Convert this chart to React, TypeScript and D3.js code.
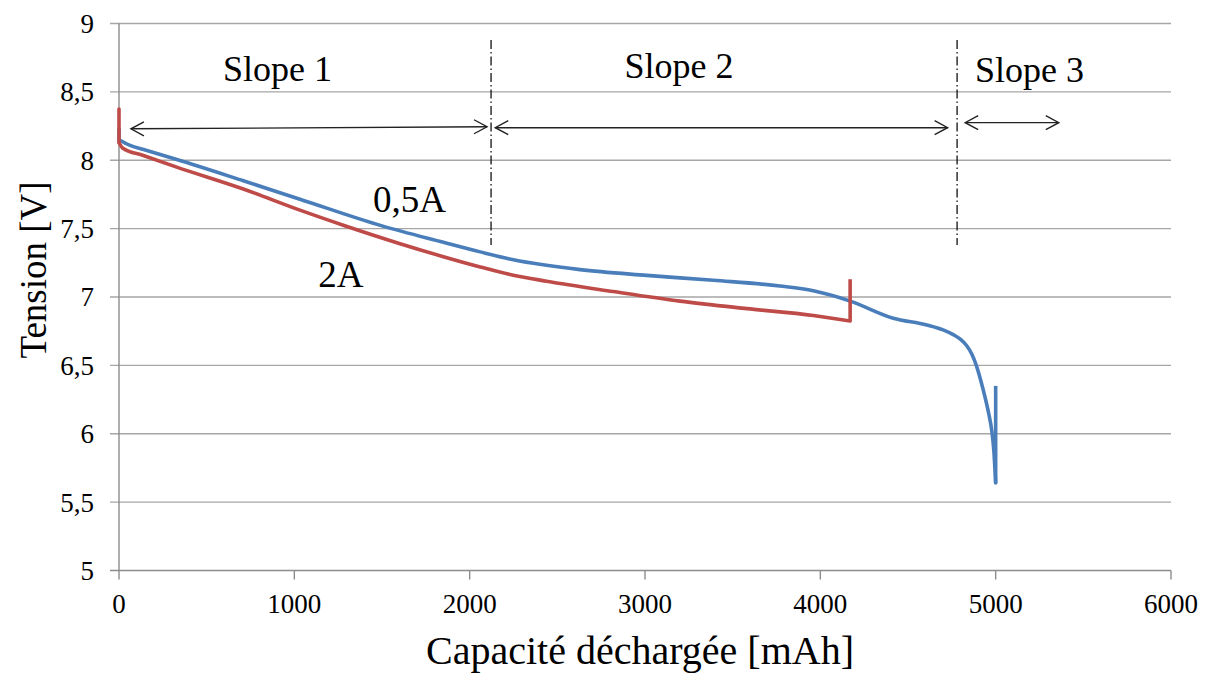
import React from "react";
import * as d3 from "d3";

const xTicks = [0, 1000, 2000, 3000, 4000, 5000, 6000];
const yTicks = [5, 5.5, 6, 6.5, 7, 7.5, 8, 8.5, 9];

// 0,5A discharge curve [capacity mAh, voltage V]
const seriesHalfAmp: [number, number][] = [
  [0, 8.23], [0, 8.15], [60, 8.11], [140, 8.078], [330, 8.005], [709, 7.85],
  [1032, 7.715], [1500, 7.52], [1850, 7.4], [2060, 7.33], [2250, 7.272],
  [2630, 7.2], [3010, 7.158], [3390, 7.122], [3770, 7.08], [3960, 7.045],
  [4170, 6.97], [4416, 6.845], [4607, 6.796], [4700, 6.76], [4758, 6.725],
  [4800, 6.69], [4834, 6.645], [4865, 6.58], [4891, 6.495], [4915, 6.39],
  [4939, 6.27], [4960, 6.15], [4977, 6.03], [4990, 5.87], [5000, 5.64],
  [5000, 6.35],
];

// 2A discharge curve
const seriesTwoAmp: [number, number][] = [
  [0, 8.375], [0, 8.13], [20, 8.09], [139, 8.035], [329, 7.95], [709, 7.79],
  [1032, 7.635], [1279, 7.525], [1603, 7.39], [1850, 7.295], [2060, 7.22],
  [2230, 7.165], [2439, 7.115], [2818, 7.04], [3199, 6.97], [3580, 6.915],
  [3960, 6.865], [4170, 6.825], [4170, 7.13],
];

// Slope zone separators (mAh)
const separators = [2122, 4780];
const sepRange = [8.88, 7.38];

// arrows: [x1, y1, x2, y2] in data units
const arrows: [number, number, number, number][] = [
  [68, 8.23, 2099, 8.245],
  [2146, 8.238, 4726, 8.238],
  [4826, 8.275, 5360, 8.275],
];

const slopeLabels = [
  { text: "Slope 1", x: 904, y: 8.578 },
  { text: "Slope 2", x: 3194, y: 8.601 },
  { text: "Slope 3", x: 5193, y: 8.575 },
];

const seriesLabels = [
  { text: "0,5A", x: 1657, y: 7.622 },
  { text: "2A", x: 1266, y: 7.073 },
];

const W = 1214;
const H = 674;
const FONT = "Liberation Serif, Times New Roman, serif";
const ts = { fontFamily: FONT };

export default function App() {
  const x = d3.scaleLinear().domain([0, 6000]).range([119, 1171]);
  const y = d3.scaleLinear().domain([5, 9]).range([570.5, 23.5]);
  const line = d3
    .line<[number, number]>()
    .x((d) => x(d[0]))
    .y((d) => y(d[1]))
    .curve(d3.curveMonotoneX);
  const straight = d3
    .line<[number, number]>()
    .x((d) => x(d[0]))
    .y((d) => y(d[1]));

  const gridColor = "#a6a6a6";
  const axisColor = "#8c8c8c";

  const arrowHead = (x0: number, y0: number, dir: number) => {
    const L = 13;
    const hw = 7;
    return `M${x0 + dir * L},${y0 - hw} L${x0},${y0} L${x0 + dir * L},${y0 + hw}`;
  };

  const drawSeries = (data: [number, number][], color: string) => {
    const n = data.length;
    const main = data.slice(1, n - 1);
    return (
      <g fill="none" stroke={color} strokeWidth={3.6} strokeLinejoin="round" strokeLinecap="round">
        <path d={straight([data[0], data[1]]) || ""} />
        <path d={line(main) || ""} />
        <path d={straight([data[n - 2], data[n - 1]]) || ""} strokeLinecap="butt" />
      </g>
    );
  };

  return (
    <svg
      width={W}
      height={H}
      style={{ position: "absolute", left: 0, top: 0, background: "#fff" }}
    >
      {/* grid */}
      {yTicks.map((t) => (
        <line
          key={"g" + t}
          x1={110}
          x2={1171}
          y1={y(t)}
          y2={y(t)}
          stroke={t === 5 ? axisColor : gridColor}
          strokeWidth={1.4}
        />
      ))}
      {/* y axis */}
      <line x1={119} x2={119} y1={y(9)} y2={y(5)} stroke={axisColor} strokeWidth={1.4} />
      {xTicks.map((t) => (
        <line key={"xt" + t} x1={x(t)} x2={x(t)} y1={y(5)} y2={y(5) + 9} stroke={axisColor} strokeWidth={1.4} />
      ))}
      {yTicks.map((t) => (
        <text
          key={"yl" + t}
          x={94}
          y={y(t)}
          dy="0.35em"
          textAnchor="end"
          fontSize={27}
          fill="#000"
          style={ts}
        >
          {String(t).replace(".", ",")}
        </text>
      ))}
      {xTicks.map((t) => (
        <text key={"xl" + t} x={x(t)} y={613} textAnchor="middle" fontSize={27} fill="#000" style={ts}>
          {t}
        </text>
      ))}
      {/* axis titles */}
      <text x={640} y={664} textAnchor="middle" fontSize={40} fill="#000" style={ts}>
        Capacité déchargée [mAh]
      </text>
      <text
        transform={`translate(46,270) rotate(-90)`}
        textAnchor="middle"
        fontSize={37}
        fill="#000"
        style={ts}
      >
        Tension [V]
      </text>

      {/* separators */}
      {separators.map((s) => (
        <line
          key={"s" + s}
          x1={x(s)}
          x2={x(s)}
          y1={y(sepRange[0])}
          y2={y(sepRange[1])}
          stroke="#111"
          strokeWidth={1.3}
          strokeDasharray="9,3,1.5,3"
        />
      ))}
      {/* arrows */}
      {arrows.map((a, i) => {
        const x1 = x(a[0]);
        const y1 = y(a[1]);
        const x2 = x(a[2]);
        const y2 = y(a[3]);
        return (
          <g key={"a" + i} stroke="#222" strokeWidth={1.4} fill="none">
            <line x1={x1} y1={y1} x2={x2} y2={y2} />
            <path d={arrowHead(x1, y1, 1)} />
            <path d={arrowHead(x2, y2, -1)} />
          </g>
        );
      })}
      {slopeLabels.map((l) => (
        <text key={l.text} x={x(l.x)} y={y(l.y)} textAnchor="middle" fontSize={36} fill="#000" style={ts}>
          {l.text}
        </text>
      ))}

      {/* series */}
      {drawSeries(seriesHalfAmp, "#4a7ebb")}
      {drawSeries(seriesTwoAmp, "#be4b48")}

      {seriesLabels.map((l) => (
        <text key={l.text} x={x(l.x)} y={y(l.y)} textAnchor="middle" fontSize={37} fill="#000" style={ts}>
          {l.text}
        </text>
      ))}
    </svg>
  );
}
